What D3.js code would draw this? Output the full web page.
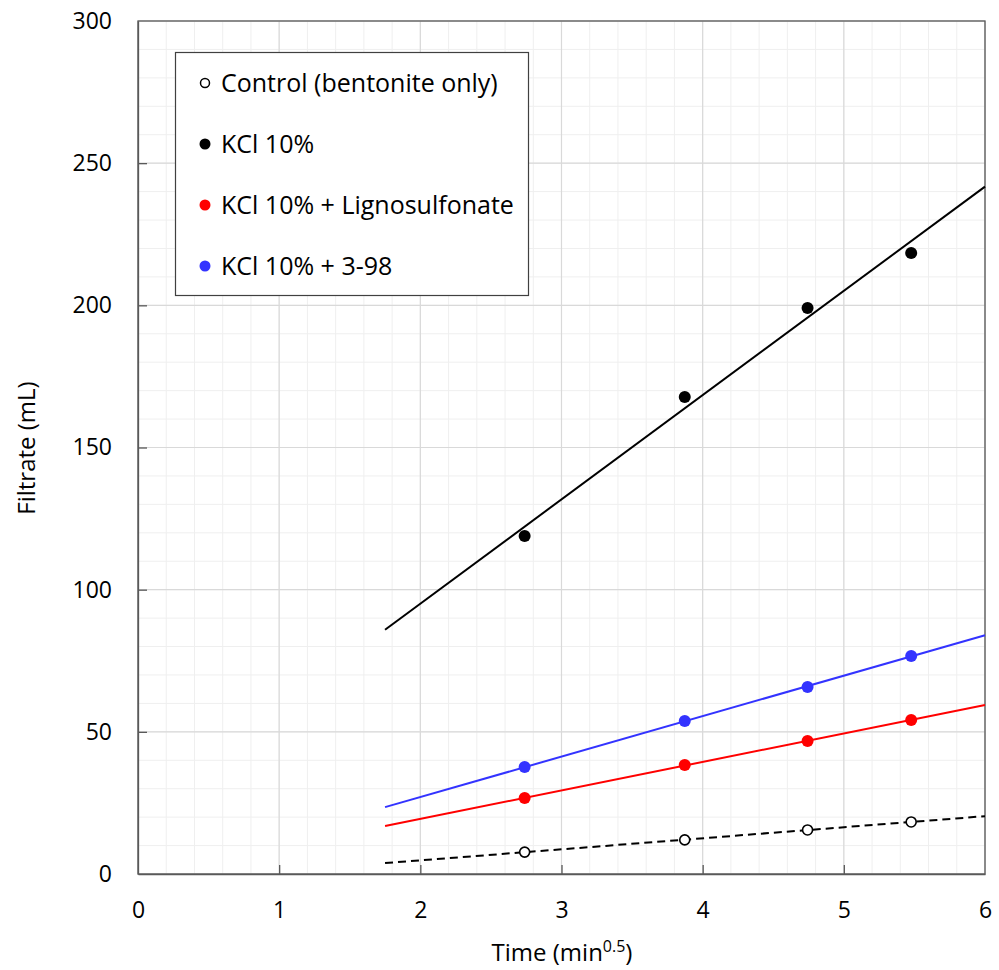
<!DOCTYPE html>
<html><head><meta charset="utf-8">
<script src="https://cdn.jsdelivr.net/npm/d3@7"></script>
<style>body{margin:0;background:#fff}text{font-family:"Open Sans",sans-serif}</style>
</head><body>
<svg id="c" width="999" height="970"></svg>
<script>
const times = [2.739, 3.873, 4.743, 5.477];
const control = [7.7, 12.0, 15.5, 18.3];
const kcl = [118.9, 167.8, 199.1, 218.4];
const kclLigno = [26.7, 38.3, 46.8, 54.2];
const kcl398 = [37.6, 53.8, 65.8, 76.7];
const seriesNames = ["Control (bentonite only)", "KCl 10%", "KCl 10% + Lignosulfonate", "KCl 10% + 3-98"];
const xTicks = [0, 1, 2, 3, 4, 5, 6];
const yTicks = [0, 50, 100, 150, 200, 250, 300];
const trendRange = [1.75, 6];

const series = [
  {name: seriesNames[0], values: control, color: "#000", open: true, dash: "8,5"},
  {name: seriesNames[1], values: kcl, color: "#000", open: false, dash: null},
  {name: seriesNames[2], values: kclLigno, color: "#ff0000", open: false, dash: null},
  {name: seriesNames[3], values: kcl398, color: "#3333ff", open: false, dash: null}
];

const svg = d3.select("#c");
const L = 138, R = 985, T = 21, B = 874;
const x = d3.scaleLinear().domain([0, 6]).range([L, R]);
const y = d3.scaleLinear().domain([0, 300]).range([B, T]);

// minor grid
const g = svg.append("g");
g.selectAll(".mx").data(d3.range(0, 6.0001, 0.2)).join("line")
  .attr("x1", d => x(d)).attr("x2", d => x(d)).attr("y1", T).attr("y2", B)
  .attr("stroke", "#efefef").attr("stroke-width", 1);
g.selectAll(".my").data(d3.range(0, 300.001, 10)).join("line")
  .attr("y1", d => y(d)).attr("y2", d => y(d)).attr("x1", L).attr("x2", R)
  .attr("stroke", "#efefef").attr("stroke-width", 1);
// major grid
g.selectAll(".Mx").data(xTicks).join("line")
  .attr("x1", d => x(d)).attr("x2", d => x(d)).attr("y1", T).attr("y2", B)
  .attr("stroke", "#d9d9d9").attr("stroke-width", 1.2);
g.selectAll(".My").data(yTicks).join("line")
  .attr("y1", d => y(d)).attr("y2", d => y(d)).attr("x1", L).attr("x2", R)
  .attr("stroke", "#d9d9d9").attr("stroke-width", 1.2);

// border
svg.append("rect").attr("x", L).attr("y", T).attr("width", R - L).attr("height", B - T)
  .attr("fill", "none").attr("stroke", "#595959").attr("stroke-width", 1.3);

// axes
const xAxis = svg.append("g").attr("transform", `translate(0,${B})`)
  .call(d3.axisBottom(x).tickValues(xTicks).tickFormat(d3.format("d")).tickSizeInner(-9).tickSizeOuter(0).tickPadding(28));
const yAxis = svg.append("g").attr("transform", `translate(${L},0)`)
  .call(d3.axisLeft(y).tickValues(yTicks).tickFormat(d3.format("d")).tickSizeInner(-9).tickSizeOuter(0).tickPadding(26));
[xAxis, yAxis].forEach(a => {
  a.select(".domain").attr("stroke", "#595959").attr("stroke-width", 1.3);
  a.selectAll(".tick line").attr("stroke", "#595959").attr("stroke-width", 1.3);
  a.selectAll("text").attr("font-size", 23).attr("fill", "#000").style("font-family", '"Open Sans",sans-serif');
});
xAxis.selectAll(".tick").filter(d => d === 0 || d === 6).select("line").remove();
yAxis.selectAll(".tick").filter(d => d === 0 || d === 300).select("line").remove();

// trendlines
function fit(xs, ys) {
  const mx = d3.mean(xs), my = d3.mean(ys);
  const sxy = d3.sum(xs, (v, i) => (v - mx) * (ys[i] - my));
  const sxx = d3.sum(xs, v => (v - mx) * (v - mx));
  const m = sxy / sxx;
  return t => my + m * (t - mx);
}
series.forEach(s => {
  const f = fit(times, s.values);
  svg.append("line")
    .attr("x1", x(trendRange[0])).attr("y1", y(f(trendRange[0])))
    .attr("x2", x(trendRange[1])).attr("y2", y(f(trendRange[1])))
    .attr("stroke", s.color).attr("stroke-width", 2)
    .attr("stroke-dasharray", s.dash);
});

// points
series.forEach(s => {
  svg.append("g").selectAll("circle").data(s.values).join("circle")
    .attr("cx", (d, i) => x(times[i])).attr("cy", d => y(d))
    .attr("r", s.open ? 5 : 6)
    .attr("fill", s.open ? "#fff" : s.color)
    .attr("stroke", s.open ? "#000" : "none").attr("stroke-width", 1.6);
});

// legend
const lg = svg.append("g");
lg.append("rect").attr("x", 175.5).attr("y", 52.5).attr("width", 353).attr("height", 243)
  .attr("fill", "#fff").attr("stroke", "#404040").attr("stroke-width", 1.2);
series.forEach((s, i) => {
  const cy = 83 + i * 61;
  lg.append("circle").attr("cx", 205).attr("cy", cy).attr("r", s.open ? 4.5 : 5.5)
    .attr("fill", s.open ? "#fff" : s.color).attr("stroke", s.open ? "#000" : "none").attr("stroke-width", 1.5);
  lg.append("text").attr("x", 221).attr("y", cy).attr("dy", "0.35em")
    .attr("font-size", 25).attr("fill", "#000").text(s.name);
});

// axis titles
svg.append("text").attr("x", 562).attr("y", 961).attr("text-anchor", "middle")
  .attr("font-size", 24).attr("fill", "#000")
  .html('Time (min<tspan dy="-9" font-size="16">0.5</tspan><tspan dy="9">)</tspan>');
svg.append("text").attr("transform", "translate(35,448) rotate(-90)").attr("text-anchor", "middle")
  .attr("font-size", 24).attr("fill", "#000").text("Filtrate (mL)");
</script>
</body></html>
